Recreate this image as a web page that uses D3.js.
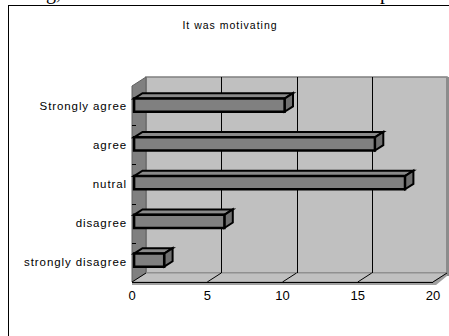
<!DOCTYPE html>
<html>
<head>
<meta charset="utf-8">
<script src="https://cdn.jsdelivr.net/npm/d3@7"></script>
<style>
  html, body { margin: 0; padding: 0; background: #fff; }
  svg { display: block; }
</style>
</head>
<body>
<svg id="chart" width="449" height="336"></svg>
<script>
// Survey responses to "It was motivating"
const categories = ["Strongly agree", "agree", "nutral", "disagree", "strongly disagree"];
const counts = [10, 16, 18, 6, 2];
const xTicks = [0, 5, 10, 15, 20];
const title = "It was motivating";

const svg = d3.select("#chart");

// Page text fragments peeking in above the chart frame
svg.append("text").attr("x", 46).attr("y", -1)
  .style("font-family", "'Liberation Serif', serif").style("font-size", "20px")
  .text("g,");
svg.append("text").attr("x", 380).attr("y", -1)
  .style("font-family", "'Liberation Serif', serif").style("font-size", "20px")
  .text("p");

// Chart frame
svg.append("rect").attr("x", 8.5).attr("y", 5.5).attr("width", 500).attr("height", 400)
  .attr("fill", "#fff").attr("stroke", "#000").attr("stroke-width", 1);

// 3D geometry: front plane + depth vector
const depth = { dx: 14, dy: -9 };
const x = d3.scaleLinear().domain([0, 20]).range([132, 433]);
const y = d3.scaleBand().domain(categories).range([86, 282]).paddingInner(0.66).paddingOuter(0.36);
const yFull = d3.scaleBand().domain(categories).range([86, 282]);
const plotTop = 86, plotBottom = 282;
const pt = (px, py, f) => [px + depth.dx * f, py + depth.dy * f];
const poly = pts => "M" + pts.map(p => p.join(",")).join("L") + "Z";

// Back wall
svg.append("path")
  .attr("d", poly([pt(x(0), plotTop, 1), pt(x(20), plotTop, 1), pt(x(20), plotBottom, 1), pt(x(0), plotBottom, 1)]))
  .attr("fill", "#c0c0c0").attr("stroke", "#808080").attr("stroke-width", 1.5);
// Back wall right edge thickness
svg.append("rect").attr("x", x(20) + depth.dx - 1).attr("y", plotTop + depth.dy)
  .attr("width", 4).attr("height", plotBottom - plotTop + 3).attr("fill", "#8c8c8c");

// Side wall
svg.append("path")
  .attr("d", poly([pt(x(0), plotTop, 0), pt(x(0), plotTop, 1), pt(x(0), plotBottom, 1), pt(x(0), plotBottom, 0)]))
  .attr("fill", "#808080").attr("stroke", "#606060").attr("stroke-width", 1);

// Floor slab front edge
svg.append("path")
  .attr("d", poly([pt(x(0), plotBottom, 0), pt(x(20), plotBottom, 0), pt(x(20), plotBottom, 1),
                   [x(20) + depth.dx, plotBottom + depth.dy + 3], [x(20) + 3, plotBottom + 3], [x(0), plotBottom + 3]]))
  .attr("fill", "#a0a0a0");
// Floor
svg.append("path")
  .attr("d", poly([pt(x(0), plotBottom, 0), pt(x(20), plotBottom, 0), pt(x(20), plotBottom, 1), pt(x(0), plotBottom, 1)]))
  .attr("fill", "#c0c0c0").attr("stroke", "#909090").attr("stroke-width", 1);
svg.append("line")
  .attr("x1", x(0)).attr("x2", x(20)).attr("y1", plotBottom + 0.5).attr("y2", plotBottom + 0.5)
  .attr("stroke", "#000").attr("stroke-width", 1);

// Gridlines on back wall and floor
xTicks.forEach(t => {
  const [bx, by] = pt(x(t), plotBottom, 1);
  if (t > 0 && t < 20) {
    svg.append("line").attr("x1", Math.round(bx) + 0.5).attr("x2", Math.round(bx) + 0.5)
      .attr("y1", plotTop + depth.dy).attr("y2", by)
      .attr("stroke", "#000").attr("stroke-width", 1);
  }
  svg.append("line").attr("x1", x(t)).attr("y1", plotBottom).attr("x2", bx).attr("y2", by)
    .attr("stroke", "#000").attr("stroke-width", 1);
});

// Category tick marks on the side wall
categories.slice(1).forEach(c => {
  const ty = Math.round(yFull(c)) + 0.5;
  svg.append("line").attr("x1", x(0)).attr("x2", x(0) + 4).attr("y1", ty).attr("y2", ty)
    .attr("stroke", "#000").attr("stroke-width", 1);
});

// 3D bars
const f0 = 0.15, f1 = 0.75;
categories.forEach((c, i) => {
  const v = counts[i];
  const y0 = y(c), y1 = y(c) + y.bandwidth();
  const ftl = pt(x(0), y0, f0), ftr = pt(x(v), y0, f0), fbr = pt(x(v), y1, f0), fbl = pt(x(0), y1, f0);
  const btl = pt(x(0), y0, f1), btr = pt(x(v), y0, f1), bbr = pt(x(v), y1, f1);
  const g = svg.append("g").attr("stroke", "#000").attr("stroke-width", 2).attr("stroke-linejoin", "miter");
  g.append("path").attr("d", poly([ftl, ftr, btr, btl])).attr("fill", "#8a8a8a");
  g.append("path").attr("d", poly([ftr, fbr, bbr, btr])).attr("fill", "#707070");
  g.append("path").attr("d", poly([ftl, ftr, fbr, fbl])).attr("fill", "#808080").attr("stroke-width", 2.5);
});

// Category labels
svg.append("g").selectAll("text").data(categories).join("text")
  .attr("x", 127).attr("y", c => yFull(c) + yFull.bandwidth() / 2 + 4)
  .attr("text-anchor", "end")
  .style("font-family", "'Liberation Sans', Arial, sans-serif").style("font-size", "11.5px")
  .style("letter-spacing", "0.9px")
  .text(c => c);

// Value axis labels
svg.append("g").selectAll("text").data(xTicks).join("text")
  .attr("x", t => x(t)).attr("y", 300).attr("text-anchor", "middle")
  .style("font-family", "'Liberation Sans', Arial, sans-serif").style("font-size", "13px")
  .text(t => t);

// Title
svg.append("text").attr("x", 230).attr("y", 29).attr("text-anchor", "middle")
  .style("font-family", "'Liberation Sans', Arial, sans-serif").style("font-size", "10.5px")
  .style("letter-spacing", "1px")
  .text(title);
</script>
</body>
</html>
